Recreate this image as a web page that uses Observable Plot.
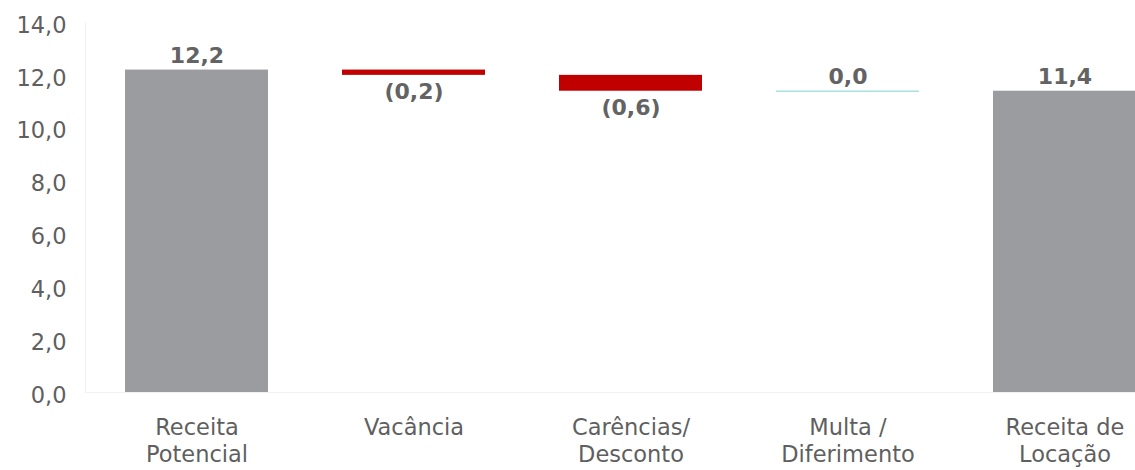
<!DOCTYPE html>
<html>
<head>
<meta charset="utf-8">
<script src="https://cdn.jsdelivr.net/npm/d3@7"></script>
<script src="https://cdn.jsdelivr.net/npm/@observablehq/plot@0.6"></script>
<style>
  html, body { margin: 0; padding: 0; background: #fff; overflow: hidden; }
  #chart { width: 1135px; height: 470px; overflow: hidden; }
</style>
</head>
<body>
<div id="chart"></div>
<script>
// Waterfall: potential rent revenue down to realised rent revenue (R$ mm)
const categories = ["Receita\nPotencial", "Vacância", "Carências/\nDesconto", "Multa /\nDiferimento", "Receita de\nLocação"];
const values = [12.2, -0.2, -0.6, 0.0, 11.4];
const kinds = ["total", "delta", "delta", "delta", "total"];
const yTicks = [0, 2, 4, 6, 8, 10, 12, 14];

const fmt = v => Math.abs(v).toFixed(1).replace(".", ",");

// running totals for floating steps
let running = 0;
const rows = categories.map((c, i) => {
  const v = values[i];
  let y1, y2;
  if (kinds[i] === "total") { y1 = 0; y2 = v; running = v; }
  else { y1 = running; y2 = running + v; running = y2; }
  return {
    category: c, value: v, kind: kinds[i],
    lo: Math.min(y1, y2), hi: Math.max(y1, y2),
    label: v < 0 ? `(${fmt(v)})` : fmt(v)
  };
});

const fill = d => d.kind === "total" ? "#9b9ca0" : "#c00000";

const chart = Plot.plot({
  width: 1135,
  height: 470,
  marginLeft: 85,
  marginRight: -40.5,
  marginTop: 22,
  marginBottom: 78,
  style: { fontFamily: "DejaVu Sans, Verdana, sans-serif", fontSize: "22px", color: "#5f5f5f", background: "#fff" },
  x: { domain: categories, paddingInner: 0.34, paddingOuter: 0.1745 },
  y: { domain: [0, 14] },
  marks: [
    Plot.ruleY([0], { stroke: "#f1f1f1" }),
    Plot.frame({ anchor: "left", stroke: "#f1f1f1" }),
    Plot.barY(rows.filter(d => d.hi > d.lo), {
      x: "category", y1: "lo", y2: "hi", fill
    }),
    Plot.tickY(rows.filter(d => d.hi === d.lo), {
      x: "category", y: "hi", stroke: "#a9e2dc", strokeWidth: 1.6
    }),
    // labels above totals and flat steps, below decreases
    Plot.text(rows.filter(d => d.value >= 0), {
      x: "category", y: "hi", text: "label", dy: -14, lineAnchor: "middle",
      fontWeight: "bold", fill: "#636363", fontSize: 22
    }),
    Plot.text(rows.filter(d => d.value < 0), {
      x: "category", y: "lo", text: "label", dy: 17, lineAnchor: "middle",
      fontWeight: "bold", fill: "#636363", fontSize: 22
    }),
    Plot.axisY({
      ticks: yTicks, tickSize: 0, tickPadding: 19, dy: 3,
      tickFormat: d => d.toFixed(1).replace(".", ","), label: null,
      fill: "#5f5f5f", fontSize: 22.5
    }),
    Plot.axisX({
      tickSize: 0, tickPadding: 23, lineHeight: 1.2, label: null,
      fill: "#5f5f5f", fontSize: 22.5
    })
  ]
});

document.getElementById("chart").appendChild(chart);
</script>
</body>
</html>
